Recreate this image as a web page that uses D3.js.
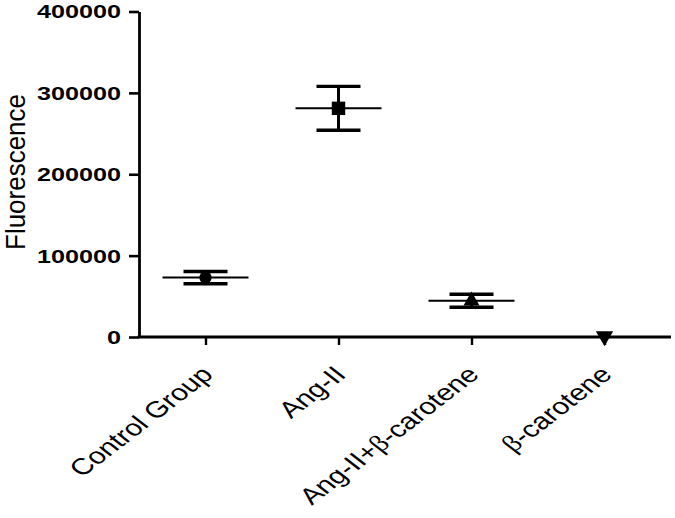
<!DOCTYPE html>
<html>
<head>
<meta charset="utf-8">
<script src="https://cdn.jsdelivr.net/npm/d3@7"></script>
<style>
  body { margin: 0; background: #fff; }
  svg { display: block; }
</style>
</head>
<body>
<div id="chart"></div>
<script>
// data
let groups = ["Control Group", "Ang-II", "Ang-II+β-carotene", "β-carotene"];
let means = [73000, 281000, 44500, 800];
let errs = [7500, 27000, 8000, 0];
let markers = ["circle", "square", "triangleUp", "triangleDown"];
let yTicks = [0, 100000, 200000, 300000, 400000];

const W = 675, H = 518;
const plotLeft = 139, plotRight = 671, plotTop = 11.5, plotBottom = 337;

let svg = d3.select("#chart").append("svg")
  .attr("width", W)
  .attr("height", H);

let x = d3.scalePoint().domain(groups).range([plotLeft, plotRight]).padding(0.5);
let y = d3.scaleLinear().domain([0, 400000]).range([plotBottom, plotTop]);

// y axis
let yAxis = svg.append("g")
  .attr("transform", "translate(" + plotLeft + ",0)")
  .call(d3.axisLeft(y).tickValues(yTicks).tickFormat(d3.format("d")).tickSize(10).tickSizeOuter(0));
yAxis.select(".domain").attr("stroke", "#000").attr("stroke-width", 2.8);
yAxis.selectAll(".tick line").attr("stroke", "#000").attr("stroke-width", 2.6);
yAxis.selectAll(".tick text")
  .attr("x", null)
  .attr("dy", "0.36em")
  .attr("transform", "translate(-18,0) scale(1.4,1)")
  .attr("fill", "#000")
  .style("font-family", "'Liberation Sans', Arial, sans-serif")
  .style("font-weight", "bold")
  .style("font-size", "18px");

// x axis
let xAxis = svg.append("g")
  .attr("transform", "translate(0," + plotBottom + ")")
  .call(d3.axisBottom(x).tickSize(8).tickSizeOuter(0).tickFormat(""));
xAxis.select(".domain").attr("stroke", "#000").attr("stroke-width", 2.8)
  .attr("d", "M" + (plotLeft - 1.4) + ",0H" + plotRight);
xAxis.selectAll(".tick line").attr("stroke", "#000").attr("stroke-width", 2.4);

// rotated category labels
groups.forEach(g => {
  let t = svg.append("text")
    .attr("transform", "translate(" + (x(g) + 9) + ",376) scale(1.3,1) rotate(-45)")
    .attr("text-anchor", "end")
    .style("font-family", "'Liberation Sans', Arial, sans-serif")
    .style("font-size", "23px")
    .attr("fill", "#000");
  g.split(/(β)/).forEach(part => {
    if (part === "") return;
    let sp = t.append("tspan").text(part);
    if (part === "β") sp.style("font-family", "'Liberation Serif', serif");
  });
});

// y axis title
svg.append("text")
  .attr("transform", "translate(25,172) scale(1.05,1) rotate(-90)")
  .attr("text-anchor", "middle")
  .style("font-family", "'Liberation Sans', Arial, sans-serif")
  .style("font-size", "26px")
  .attr("fill", "#000")
  .text("Fluorescence");

// error bars + means
let pts = groups.map((g, i) => ({g: g, m: means[i], e: errs[i], shape: markers[i]}));

let grp = svg.append("g");
pts.forEach(d => {
  let cx = x(d.g);
  if (d.e > 0) {
    grp.append("line")
      .attr("x1", cx).attr("x2", cx)
      .attr("y1", y(d.m + d.e)).attr("y2", y(d.m - d.e))
      .attr("stroke", "#000").attr("stroke-width", 3);
    [d.m + d.e, d.m - d.e].forEach(v => {
      grp.append("line")
        .attr("x1", cx - 22).attr("x2", cx + 22)
        .attr("y1", y(v)).attr("y2", y(v))
        .attr("stroke", "#000").attr("stroke-width", 3.4);
    });
    grp.append("line")
      .attr("x1", cx - 43).attr("x2", cx + 43)
      .attr("y1", y(d.m)).attr("y2", y(d.m))
      .attr("stroke", "#000").attr("stroke-width", 2);
  }
});

let symbolType = {
  circle: d3.symbolCircle,
  square: d3.symbolSquare,
  triangleUp: d3.symbolTriangle,
  triangleDown: d3.symbolTriangle
};
let symbolSize = {circle: 120, square: 180, triangleUp: 110, triangleDown: 130};

grp.selectAll("path.marker")
  .data(pts)
  .join("path")
  .attr("class", "marker")
  .attr("d", d => d3.symbol().type(symbolType[d.shape]).size(symbolSize[d.shape])())
  .attr("transform", d => "translate(" + x(d.g) + "," + y(d.m) + ")" + (d.shape === "triangleDown" ? " rotate(180)" : ""))
  .attr("fill", "#000");
</script>
</body>
</html>
